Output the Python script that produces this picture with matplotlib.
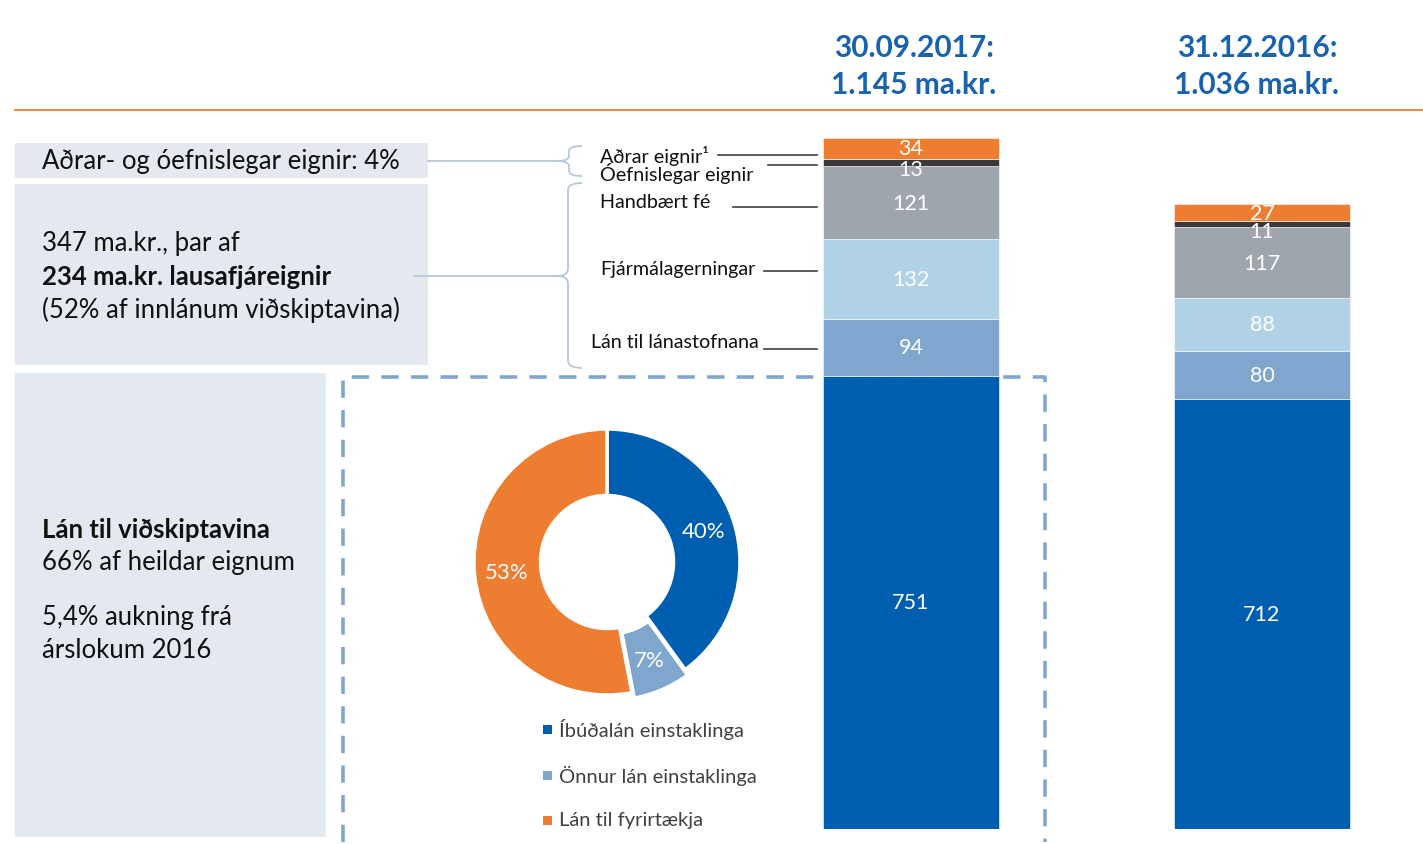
import numpy as np
import matplotlib
matplotlib.use("Agg")
import matplotlib.pyplot as plt
from matplotlib.patches import Rectangle, PathPatch
from matplotlib.path import Path

plt.rcParams['font.family'] = ['Lato', 'DejaVu Sans']

# data
dates = ["30.09.2017:", "31.12.2016:"]
totals = ["1.145 ma.kr.", "1.036 ma.kr."]
segments = ["Lán til viðskiptavina", "Lán til lánastofnana", "Fjármálagerningar",
            "Handbært fé", "Óefnislegar eignir", "Aðrar eignir"]
vals_2017 = [751, 94, 132, 121, 13, 34]
vals_2016 = [712, 80, 88, 117, 11, 27]
seg_colors = ["#005EB0", "#7FA7CE", "#AFD2E7", "#9EA5AC", "#3A3A3C", "#ED7D31"]

donut_labels = ["Íbúðalán einstaklinga", "Önnur lán einstaklinga", "Lán til fyrirtækja"]
donut_vals = [40, 7, 53]
donut_colors = ["#005EB0", "#7FA7CE", "#ED7D31"]

W, H = 1423, 845
fig = plt.figure(figsize=(W / 100, H / 100), dpi=100)

# overlay in pixel coordinates
ov = fig.add_axes([0, 0, 1, 1])
ov.set_xlim(0, W)
ov.set_ylim(H, 0)
ov.axis("off")

box_c = "#E4E9F0"
line_c = "#B7C8D9"
txt_c = "#111111"
fs_box = 18.5

ov.add_patch(Rectangle((15, 144), 413, 35, color=box_c, lw=0))
ov.add_patch(Rectangle((15, 185), 413, 181, color=box_c, lw=0))
ov.add_patch(Rectangle((15, 374), 311, 464, color=box_c, lw=0))

ov.plot([15, W], [111, 111], color="#ED7D31", lw=1.3)

ov.text(42, 162, "Aðrar- og óefnislegar eignir: 4%", fontsize=fs_box, va="center", color=txt_c)
ov.text(42, 243, "347 ma.kr., þar af", fontsize=fs_box, va="center", color=txt_c)
ov.text(42, 277, "234 ma.kr. lausafjáreignir", fontsize=fs_box, va="center",
        fontweight="bold", color=txt_c)
ov.text(42, 310, "(52% af innlánum viðskiptavina)", fontsize=fs_box, va="center", color=txt_c)

ov.text(42, 530, "Lán til viðskiptavina", fontsize=fs_box, va="center", fontweight="bold", color=txt_c)
ov.text(42, 563, "66% af heildar eignum", fontsize=fs_box, va="center", color=txt_c)
ov.text(42, 618, "5,4% aukning frá", fontsize=fs_box, va="center", color=txt_c)
ov.text(42, 651, "árslokum 2016", fontsize=fs_box, va="center", color=txt_c)

# connectors and braces
ov.plot([428, 557], [162, 162], color=line_c, lw=1.3)
ov.plot([414, 557], [277, 277], color=line_c, lw=1.3)


def brace(xt, xa, xe, yt, ym, yb, r=5):
    verts = [(xe, yt), (xa, yt), (xa, yt + r),
             (xa, ym - r), (xa, ym), (xt, ym),
             (xa, ym), (xa, ym + r),
             (xa, yb - r), (xa, yb), (xe, yb)]
    codes = [Path.MOVETO, Path.CURVE3, Path.CURVE3,
             Path.LINETO, Path.CURVE3, Path.CURVE3,
             Path.CURVE3, Path.CURVE3,
             Path.LINETO, Path.CURVE3, Path.CURVE3]
    ov.add_patch(PathPatch(Path(verts, codes), fill=False, edgecolor=line_c, lw=1.3))


brace(557, 569, 582, 147, 162, 177)
brace(557, 568, 582, 184, 277, 369, r=7)

# segment labels for first bar
lab_c = "#404040"
fs_lab = 14.2
ov.text(600, 156, "Aðrar eignir¹", fontsize=fs_lab, va="center", color=txt_c)
ov.plot([718, 817], [156, 156], color=lab_c, lw=1.2)
ov.text(600, 174, "Óefnislegar eignir", fontsize=fs_lab, va="center", color=txt_c)
ov.plot([768, 817], [165.5, 165.5], color=lab_c, lw=1.2)
ov.text(600, 203, "Handbært fé", fontsize=fs_lab, va="center", color=txt_c)
ov.plot([733, 817], [208, 208], color=lab_c, lw=1.2)
ov.text(600, 270, "Fjármálagerningar", fontsize=fs_lab, va="center", color=txt_c)
ov.plot([764, 817], [271.5, 271.5], color=lab_c, lw=1.2)
ov.text(591, 343, "Lán til lánastofnana", fontsize=fs_lab, va="center", color=txt_c)
ov.plot([764, 817], [350, 350], color=lab_c, lw=1.2)

# dashed frame
ov.plot([343, 343, 1045, 1045], [843, 378, 378, 843], color="#7FA7CE", lw=2.6,
        linestyle=(0, (4.8, 3.4)), solid_joinstyle="miter", dash_capstyle="butt")

# headers
blue_t = "#1862AE"
for x, d, t in zip([914, 1257], dates, totals):
    ov.text(x, 48, d, fontsize=21.5, fontweight="bold", color=blue_t, ha="center", va="center")
    ov.text(x, 85, t, fontsize=21.5, fontweight="bold", color=blue_t, ha="center", va="center")

# stacked bars
px_per = (830 - 139) / 1145
L, R = 800, 1400
bottom_px, top_px = 830, 120
bx = fig.add_axes([L / W, (H - bottom_px) / H, (R - L) / W, (bottom_px - top_px) / H])
bx.patch.set_alpha(0)
bx.axis("off")
bx.set_xlim((L - 911) / 351, (R - 911) / 351)
bx.set_ylim(0, (bottom_px - top_px) / px_per)

xs = np.arange(2)
data = np.array([vals_2017, vals_2016])
base = np.zeros(2)
for i, c in enumerate(seg_colors):
    v = data[:, i]
    bx.bar(xs, v, bottom=base, width=0.5, color=c, edgecolor="white", linewidth=0.4)
    for j in range(2):
        yc = base[j] + v[j] / 2
        off = 0
        if i == 4:
            off = -7
        bx.annotate(str(v[j]), (xs[j], yc), xytext=(0, off), textcoords="offset pixels",
                    ha="center", va="center", color="white", fontsize=15.5)
    base = base + v

# donut
cx, cy, rad = 607, 563, 133
half = 1.1 * rad
dx = fig.add_axes([(cx - half) / W, (H - cy - half) / H, 2 * half / W, 2 * half / H])
wedges, _, autotexts = dx.pie(donut_vals, colors=donut_colors, startangle=90, counterclock=False,
                              explode=[0, 0.045, 0], autopct="%1.0f%%", pctdistance=0.76,
                              wedgeprops=dict(width=0.5, edgecolor="white", linewidth=2.5),
                              textprops=dict(color="white", fontsize=16))
dx.set_xlim(-1.1, 1.1)
dx.set_ylim(-1.1, 1.1)
dx.set_aspect("equal")

# donut legend
for y, lab, c in zip([730, 776, 821], donut_labels, donut_colors):
    ov.add_patch(Rectangle((543, y - 4.5), 9, 9, color=c, lw=0))
    ov.text(559, y, lab, fontsize=14.5, va="center", color="#404040")

fig.savefig("out.png", dpi=100)
